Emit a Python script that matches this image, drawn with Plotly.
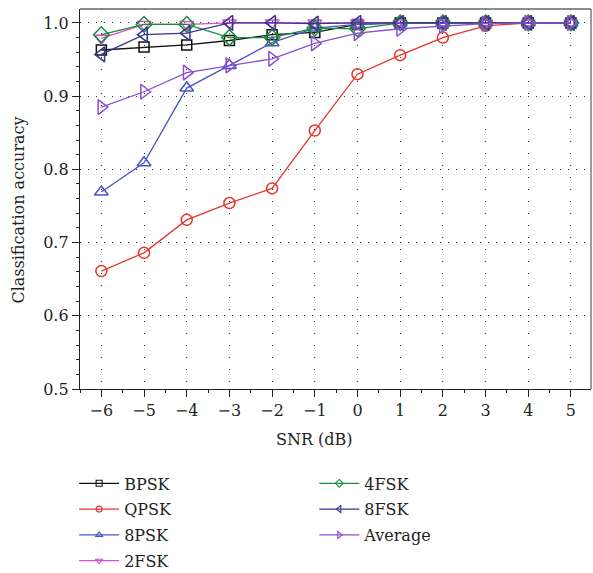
import plotly.graph_objects as go

snr = [-6, -5, -4, -3, -2, -1, 0, 1, 2, 3, 4, 5]
bpsk = [0.963, 0.967, 0.970, 0.976, 0.984, 0.987, 0.998, 1.0, 1.0, 1.0, 1.0, 1.0]
qpsk = [0.661, 0.686, 0.731, 0.754, 0.774, 0.853, 0.930, 0.956, 0.980, 0.996, 1.0, 1.0]
psk8 = [0.769, 0.809, 0.911, 0.942, 0.973, 0.993, 0.998, 1.0, 1.0, 1.0, 1.0, 1.0]
fsk2 = [0.979, 0.998, 0.998, 1.0, 1.0, 1.0, 1.0, 1.0, 1.0, 1.0, 1.0, 1.0]
fsk4 = [0.984, 0.998, 0.998, 0.980, 0.980, 0.993, 0.992, 1.0, 1.0, 1.0, 1.0, 1.0]
fsk8 = [0.957, 0.984, 0.986, 1.0, 1.0, 0.999, 1.0, 1.0, 1.0, 1.0, 1.0, 1.0]
average = [0.885, 0.906, 0.932, 0.942, 0.951, 0.972, 0.986, 0.992, 0.996, 0.999, 1.0, 1.0]

names = ["BPSK", "QPSK", "8PSK", "2FSK", "4FSK", "8FSK", "Average"]
series = [bpsk, qpsk, psk8, fsk2, fsk4, fsk8, average]
colors = ["#111111", "#e8352b", "#4a55c4", "#d950c8", "#1a8c3c", "#34358f", "#8b4fd0"]
symbols = ["square-open", "circle-open", "triangle-up-open", "triangle-down-open",
           "diamond-open", "triangle-left-open", "triangle-right-open"]
sizes = [10, 11, 12, 12, 12, 13, 13]

FONT = "DejaVu Serif"
FS = 16

fig = go.Figure()
for n, s, c, sym, sz in zip(names, series, colors, symbols, sizes):
    fig.add_trace(go.Scatter(
        x=snr, y=s, mode="lines+markers", name=n, showlegend=False,
        line=dict(color=c, width=1.3),
        marker=dict(symbol=sym, size=sz, color=c, line=dict(width=1.5, color=c)),
    ))
# legend entries (small markers like the reference)
for i, (n, c, sym) in enumerate(zip(names, colors, symbols)):
    fig.add_trace(go.Scatter(
        x=[None], y=[None], mode="lines+markers", name=n, legendgroup=n,
        legend="legend" if i < 4 else "legend2",
        line=dict(color=c, width=1.3),
        marker=dict(symbol=sym, size=6, color=c, line=dict(width=1.1, color=c)),
    ))

fig.update_layout(
    width=593, height=573,
    margin=dict(l=80, r=2, t=9, b=184, autoexpand=False),
    paper_bgcolor="white", plot_bgcolor="white",
    font=dict(family=FONT, size=FS, color="#231f20"),
    xaxis=dict(
        range=[-6.5, 5.47], tickmode="array", tickvals=snr,
        ticks="outside", ticklen=7, tickwidth=1.2, tickcolor="#222",
        minor=dict(dtick=0.5, tick0=-6.5, ticks="outside", ticklen=3, tickwidth=1, tickcolor="#222"),
        showline=True, linecolor="#222", linewidth=1.3,
        showgrid=True, gridcolor="#333", gridwidth=1, griddash="1px,11px",
        zeroline=False, automargin=False,
        tickfont=dict(size=FS),
    ),
    yaxis=dict(
        range=[0.5, 1.019], tickmode="array",
        tickvals=[0.5, 0.6, 0.7, 0.8, 0.9, 1.0],
        ticktext=["0.5", "0.6", "0.7", "0.8", "0.9", "1.0"],
        ticks="outside", ticklen=7, tickwidth=1.2, tickcolor="#222",
        minor=dict(dtick=0.02, tick0=0.5, ticks="outside", ticklen=3, tickwidth=1, tickcolor="#222"),
        showline=True, linecolor="#222", linewidth=1.3,
        showgrid=True, gridcolor="#333", gridwidth=1, griddash="1px,7px",
        zeroline=False, automargin=False,
        tickfont=dict(size=FS),
    ),
    legend=dict(
        xref="container", yref="container", x=0.125, y=0.186,
        xanchor="left", yanchor="top", bgcolor="rgba(0,0,0,0)",
        font=dict(size=FS), tracegroupgap=2, itemwidth=40,
    ),
    legend2=dict(
        xref="container", yref="container", x=0.530, y=0.186,
        xanchor="left", yanchor="top", bgcolor="rgba(0,0,0,0)",
        font=dict(size=FS), tracegroupgap=2, itemwidth=40,
    ),
    annotations=[
        dict(text="SNR (dB)", xref="paper", yref="paper", x=0.458, y=-0.134,
             xanchor="center", yanchor="middle", showarrow=False, font=dict(size=FS)),
        dict(text="Classification accuracy", xref="paper", yref="paper", x=-0.121, y=0.47,
             xanchor="center", yanchor="middle", textangle=-90, showarrow=False,
             font=dict(size=FS)),
    ],
    shapes=[
        dict(type="line", xref="paper", yref="paper", x0=0, x1=1, y0=1, y1=1,
             line=dict(color="#666", width=1.3)),
        dict(type="line", xref="paper", yref="paper", x0=1, x1=1, y0=0, y1=1,
             line=dict(color="#666", width=1.3)),
    ],
)

fig.write_html("out.html", config={"displayModeBar": False},
               post_script="document.body.style.margin='0';")
